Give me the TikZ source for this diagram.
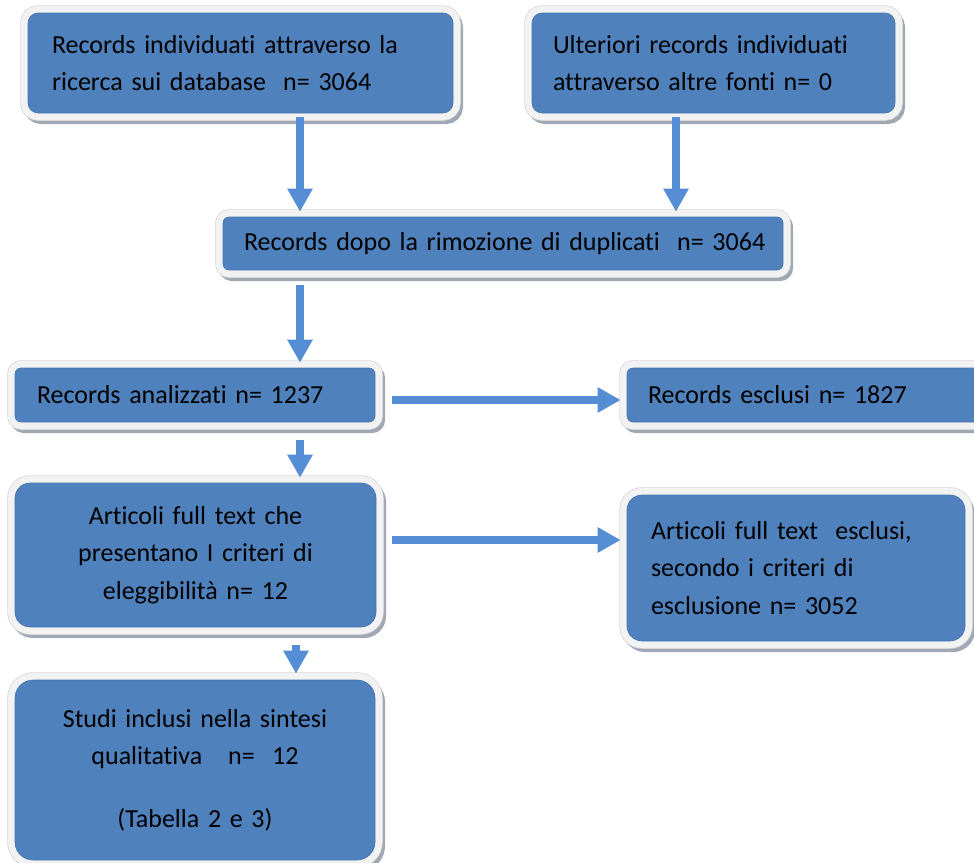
\documentclass[tikz,border=0pt]{standalone}
\usepackage{fontspec}
\setmainfont{Carlito}[Ligatures=NoCommon]
\usetikzlibrary{arrows.meta}
\definecolor{blueF}{RGB}{79,129,189}
\definecolor{blueE}{RGB}{70,118,176}
\definecolor{arrowC}{RGB}{85,142,213}
\definecolor{frameC}{RGB}{242,242,242}
\definecolor{edgeC}{RGB}{214,214,214}
\definecolor{shadowC}{RGB}{160,168,180}
\newcommand\boxfont{\fontsize{26}{37.5}\selectfont}
\tikzset{
  card/.style={rectangle, rounded corners=#1, fill=blueF, draw=blueE, line width=0.6pt,
    font=\boxfont, text=black, inner ysep=2pt,
    preaction={draw=shadowC, fill=shadowC, line width=14pt, transform canvas={shift={(3pt,-4pt)}}},
    preaction={draw=edgeC, line width=15.5pt},
    preaction={draw=frameC, line width=14pt}},
  card/.default=10pt,
  arr/.style={draw=arrowC, line width=8pt, -{Triangle[length=23pt,width=24pt]}},
}
\begin{document}
\begin{tikzpicture}[x=1pt,y=-1pt]
\useasboundingbox (0,0) rectangle (974,862);
\clip (0,0) rectangle (974,862);
% boxes
\node[card=10pt, minimum width=425pt, minimum height=100pt, text width=377pt, inner xsep=24pt, align=left]
  (b1) at (240.5,63) {\mbox{Records individuati attraverso la}\\\mbox{ricerca sui database\ \ n= 3064}};
\node[card=10pt, minimum width=363pt, minimum height=100pt, text width=321pt, inner xsep=21pt, align=left]
  (b2) at (713.5,63) {\mbox{Ulteriori records individuati}\\\mbox{attraverso altre fonti n= 0}};
\node[card=6pt, minimum width=560pt, minimum height=53pt, text width=518pt, inner xsep=21pt, align=left]
  (b3) at (503,243.5) {\mbox{Records dopo la rimozione di duplicati\ \ n= 3064}};
\node[card=6pt, minimum width=360pt, minimum height=54pt, text width=316pt, inner xsep=22pt, align=left]
  (b4) at (195,395) {\mbox{Records analizzati n= 1237}};
\node[card=6pt, minimum width=363pt, minimum height=54pt, text width=321pt, inner xsep=21pt, align=left]
  (b5) at (808.5,395) {\mbox{Records esclusi n= 1827}};
\node[card=15pt, minimum width=361pt, minimum height=144pt, text width=341pt, inner xsep=10pt, align=center]
  (b6) at (195.5,555) {Articoli full text che\\presentano I criteri di\\eleggibilità n= 12};
\node[card=15pt, minimum width=338pt, minimum height=146pt, text width=290pt, inner xsep=24pt, align=left]
  (b7) at (796,568) {\mbox{Articoli full text\ \ esclusi,}\\\mbox{secondo i criteri di}\\\mbox{esclusione n= 3052}};
\node[card=18pt, minimum width=360pt, minimum height=180pt, text width=340pt, inner xsep=10pt, align=center]
  (b8) at (195,770) {Studi inclusi nella sintesi\\qualitativa\ \ \ n=\ \ 12\\[25pt](Tabella 2 e 3)};
% helper coordinates for connector positions
\coordinate (xa) at (300,0);
\coordinate (xb) at (676,0);
\coordinate (xc) at (296,0);
\coordinate (ya) at (0,400);
\coordinate (yb) at (0,540);
% connectors
\draw[arr, shorten <=4pt, shorten >=5pt] (b1.south -| xa) -- (b3.north -| xa);
\draw[arr, shorten <=4pt, shorten >=5pt] (b2.south -| xb) -- (b3.north -| xb);
\draw[arr, shorten <=15pt, shorten >=5pt] (b3.south -| xa) -- (b4.north -| xa);
\draw[arr, shorten <=18pt, shorten >=5pt] (b4.south -| xa) -- (b6.north -| xa);
\draw[arr, shorten <=18pt, shorten >=6pt] (b6.south -| xc) -- (b8.north -| xc);
\draw[arr, shorten <=17pt, shorten >=6pt] (b4.east |- ya) -- (b5.west |- ya);
\draw[arr, shorten <=16pt, shorten >=6pt] (b6.east |- yb) -- (b7.west |- yb);
\end{tikzpicture}
\end{document}
